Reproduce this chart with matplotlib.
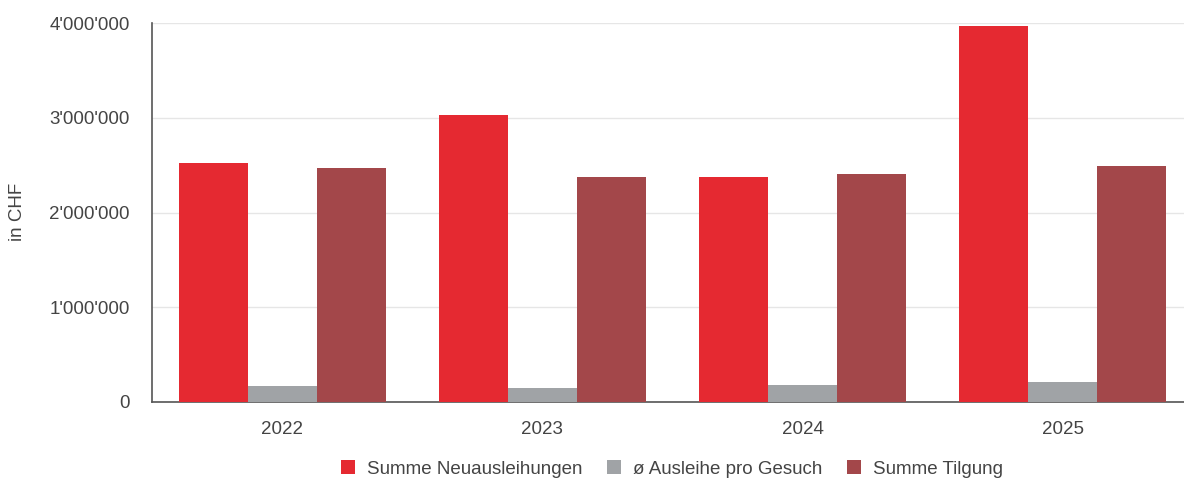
import numpy as np
import matplotlib.pyplot as plt
from matplotlib.ticker import FuncFormatter

jahre = ['2022', '2023', '2024', '2025']
neuausleihungen = [2520000, 3030000, 2375000, 3970000]
ausleihe_pro_gesuch = [165000, 151000, 183000, 211000]
tilgung = [2470000, 2375000, 2405000, 2490000]

serien = ['Summe Neuausleihungen', 'ø Ausleihe pro Gesuch', 'Summe Tilgung']
farben = ['#E52931', '#A0A3A6', '#A3474A']

plt.rcParams['font.family'] = ['Liberation Sans', 'DejaVu Sans']
textfarbe = '#444444'
schrift = 13.5

fig = plt.figure(figsize=(11.84, 4.8), dpi=100)
# Plotfläche: links x=152, oben y=23, unten y=402 (Pixel)
ax = fig.add_axes([152 / 1184, 1 - 402 / 480, 1041 / 1184, 379 / 480])

x = np.arange(len(jahre))
breite = 0.265
for i, (werte, name, farbe) in enumerate(zip([neuausleihungen, ausleihe_pro_gesuch, tilgung], serien, farben)):
    ax.bar(x + (i - 1) * breite, werte, breite, color=farbe, label=name, zorder=3)

ax.set_xlim(-0.5, 3.5)
ax.set_ylim(0, 4000000)
ax.set_yticks([0, 1000000, 2000000, 3000000, 4000000])
ax.yaxis.set_major_formatter(FuncFormatter(lambda v, p: f"{int(v):,}".replace(',', "'")))
ax.set_xticks(x)
ax.set_xticklabels(jahre)
ax.tick_params(axis='both', length=0, labelsize=schrift, colors=textfarbe)
ax.tick_params(axis='y', pad=16)
ax.tick_params(axis='x', pad=14)

ax.grid(axis='y', color='#e6e6e6', linewidth=1, zorder=0)
for s in ['top', 'right']:
    ax.spines[s].set_visible(False)
ax.spines['left'].set_color('#555555')
ax.spines['bottom'].set_color('#555555')
ax.spines['left'].set_linewidth(1.2)
ax.spines['bottom'].set_linewidth(1.2)
ax.axhline(4000000, color='#c8c8c8', linewidth=1.2, zorder=1)

fig.text(18 / 1184, 1 - 212 / 480, 'in CHF', rotation=90, va='center', ha='center',
         fontsize=schrift, color=textfarbe)

fig.legend(loc='center', bbox_to_anchor=(672 / 1184, 1 - 469 / 480), ncol=3, frameon=False,
           fontsize=schrift, labelcolor=textfarbe, handlelength=0.75, handleheight=0.75,
           handletextpad=0.6, columnspacing=1.35)

fig.savefig('out.png', dpi=100)
